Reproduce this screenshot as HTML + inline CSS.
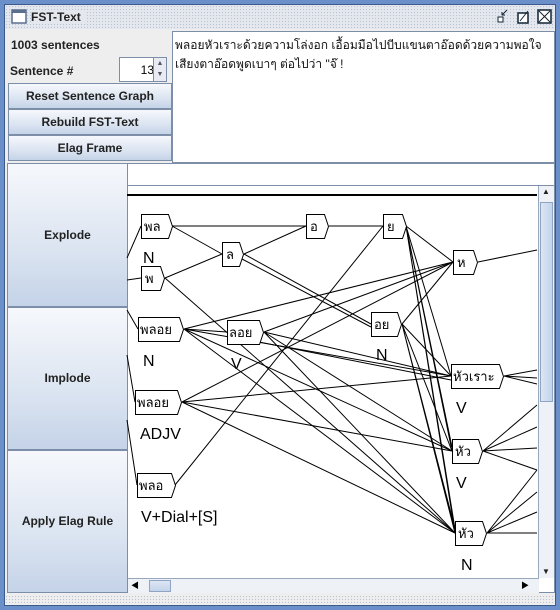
<!DOCTYPE html>
<html><head><meta charset="utf-8"><style>
*{margin:0;padding:0;box-sizing:border-box}
body{width:560px;height:610px;background:#6b8fc9;position:relative;overflow:hidden;font-family:"Liberation Sans","Noto Sans CJK SC",sans-serif}
.win{position:absolute;left:4px;top:4px;width:552px;height:602px;background:#eeeeee;border:1px solid #3a5a8c}
.title{position:absolute;left:0;top:0;width:550px;height:24px;background:#e4e8ee;background-image:radial-gradient(#b9c3d3 0.7px,transparent 0.8px);background-size:3px 3px}
.title span{position:absolute;left:26px;top:5px;font-size:12px;font-weight:bold;background:#e4e8ee;padding-right:4px;color:#222}
.btn{position:absolute;background:linear-gradient(#f6f8fc,#dbe4f1 60%,#c5d3e8);border:1px solid #7d8ea8;font-size:12px;font-weight:bold;color:#222;text-align:center}
.lb{position:absolute;font-size:12px;font-weight:bold;color:#222}
</style></head><body>
<div class="win">
<div class="title"><svg style="position:absolute;left:6px;top:4px" width="16" height="15"><rect x="1" y="1" width="14" height="13" fill="#fff" stroke="#5a6e8e" stroke-width="1.5"/><rect x="1" y="1" width="14" height="3" fill="#5a6e8e"/></svg><span>FST-Text</span>
<svg style="position:absolute;left:485px;top:4px" width="62" height="16"><rect x="8" y="8" width="5" height="5" fill="#fff" stroke="#123" /><path d="M12 6 L17 1 M12 6h3 M12 6v-3" stroke="#123"/><rect x="28" y="4" width="10" height="10" fill="#fff" stroke="#123" stroke-width="1.5"/><path d="M30 12 L38 2" stroke="#123"/><rect x="48" y="1" width="13" height="13" fill="#fff" stroke="#123" stroke-width="1.5"/><path d="M49 2 L60 13 M60 2 L49 13" stroke="#123"/></svg></div>
<div class="lb" style="left:6px;top:33px">1003 sentences</div>
<div class="lb" style="left:5px;top:59px">Sentence #</div>
<div style="position:absolute;left:114px;top:52px;width:38px;height:25px;background:#fff;border:1px solid #7d8ea8;font-size:12px;text-align:right;padding:5px 2px 0 0">13</div>
<div style="position:absolute;left:148px;top:52px;width:14px;height:25px;background:#e8ecf2;border:1px solid #7d8ea8;font-size:7px;color:#556;text-align:center;line-height:11px">▲<br>▼</div>
<div class="btn" style="left:3px;top:78px;width:164px;height:26px;line-height:24px">Reset Sentence Graph</div>
<div class="btn" style="left:3px;top:104px;width:164px;height:26px;line-height:24px">Rebuild FST-Text</div>
<div class="btn" style="left:3px;top:130px;width:164px;height:26px;line-height:24px">Elag Frame</div>
<div style="position:absolute;left:167px;top:26px;width:383px;height:132px;background:#fff;border:1px solid #7d8ea8;font-size:12px;padding:4px 2px;line-height:19px;font-family:'Liberation Sans','Noto Sans CJK SC',sans-serif;color:#111">พลอยหัวเราะด้วยความโล่งอก เอื้อมมือไปบีบแขนตาอ๊อดด้วยความพอใจ เสียงตาอ๊อดพูดเบาๆ ต่อไปว่า "จ๊ !</div>
<div class="btn" style="left:2px;top:158px;width:121px;height:144px;line-height:142px">Explode</div>
<div class="btn" style="left:2px;top:302px;width:121px;height:143px;line-height:141px">Implode</div>
<div class="btn" style="left:2px;top:445px;width:121px;height:143px;line-height:141px">Apply Elag Rule</div>
<div style="position:absolute;left:122px;top:158px;width:428px;height:430px;background:#fff;border:1px solid #7d8ea8"></div>
<div style="position:absolute;left:122px;top:180px;width:428px;height:1px;background:#7d8ea8"></div>
<div style="position:absolute;left:533px;top:181px;width:16px;height:392px;background:#eef1f6;border-left:1px solid #9aa8bd"><div style="position:absolute;left:1px;top:16px;width:13px;height:200px;background:linear-gradient(90deg,#dce6f4,#c3d3ea);border:1px solid #8fa3c2"></div><div style="position:absolute;top:1px;left:3px;font-size:8px;color:#222">▲</div><div style="position:absolute;bottom:2px;left:3px;font-size:8px;color:#222">▼</div></div>
<div style="position:absolute;left:123px;top:573px;width:411px;height:15px;background:#eef1f6;border-top:1px solid #9aa8bd"><div style="position:absolute;left:21px;top:1px;width:22px;height:12px;background:linear-gradient(#dce6f4,#c3d3ea);border:1px solid #8fa3c2"></div><div style="position:absolute;left:3px;top:1px;font-size:8px">◀</div><div style="position:absolute;right:10px;top:1px;font-size:8px">▶</div></div>
<div style="position:absolute;left:0;top:590px;width:550px;height:8px;background-image:radial-gradient(#b9c3d3 0.7px,transparent 0.8px);background-size:3px 3px"></div>
</div>
<svg style="position:absolute;left:0;top:0" width="560" height="610" font-family="Liberation Sans,Noto Sans CJK SC,sans-serif">
<line x1="127" y1="195" x2="537" y2="195" stroke="#000" stroke-width="2"/>
<g stroke="#000" stroke-width="1" fill="none">
<path d="M127 258L141 226M127 280L141 278M127 310L138 329M127 355L135 402M127 420L137 485"/>
<path d="M172 226L306 226M172 226L222 254M165 278L222 254M244 254L306 226M244 254L371 324M242 259L371 327M165 278L455 533M329 226L383 226"/>
<path d="M406 226L453 262M406 226L451 376M406 226L452 451M406 226L452 447M406 226L455 533M406 226L455 529M175 485L383 226"/>
<path d="M182 402L453 262M182 402L451 376M182 402L452 451M182 402L455 533"/>
<path d="M184 329L453 262M184 329L227 332M184 329L451 376M184 329L452 451M184 329L455 533"/>
<path d="M264 332L453 262M264 332L451 376M259 342L451 380M264 332L452 451M264 332L455 533"/>
<path d="M402 324L453 262M402 324L451 376M402 324L452 451M402 324L455 533M402 324L455 529"/>
<path d="M478 262L537 250M504 376L537 370M504 376L537 378M504 376L537 384M483 451L537 405M483 451L537 427M483 451L537 448M483 451L537 470M487 533L537 470M487 533L537 492M487 533L537 512M487 533L537 533"/>
</g>
<g fill="#fff" stroke="#000" stroke-width="1">
<path d="M141.5 214.5h27l4 12l-4 12h-27z"/>
<path d="M222.5 242.5h17l4 12l-4 12h-17z"/>
<path d="M141.5 266.5h19l4 12l-4 12h-19z"/>
<path d="M306.5 214.5h18l4 12l-4 12h-18z"/>
<path d="M383.5 214.5h19l4 12l-4 12h-19z"/>
<path d="M453.5 250.5h20l4 12l-4 12h-20z"/>
<path d="M138.5 317.5h41l4 12l-4 12h-41z"/>
<path d="M227.5 320.5h32l4 12l-4 12h-32z"/>
<path d="M371.5 312.5h26l4 12l-4 12h-26z"/>
<path d="M451.5 364.5h48l4 12l-4 12h-48z"/>
<path d="M135.5 390.5h42l4 12l-4 12h-42z"/>
<path d="M452.5 439.5h26l4 12l-4 12h-26z"/>
<path d="M137.5 473.5h34l4 12l-4 12h-34z"/>
<path d="M455.5 521.5h27l4 12l-4 12h-27z"/>
</g>
<g font-size="13" fill="#000">
<text x="144" y="231">พล</text><text x="226" y="259">ล</text><text x="145" y="283">พ</text>
<text x="310" y="231">อ</text><text x="387" y="231">ย</text><text x="457" y="267">ห</text>
<text x="140" y="334">พลอย</text><text x="229" y="337">ลอย</text><text x="374" y="329">อย</text>
<text x="453" y="381">หัวเราะ</text><text x="137" y="407">พลอย</text><text x="455" y="456">หัว</text>
<text x="139" y="490">พลอ</text><text x="458" y="538">หัว</text>
</g>
<g font-size="16" fill="#000">
<text x="143" y="263">N</text><text x="143" y="366">N</text><text x="231" y="369">V</text><text x="376" y="360">N</text>
<text x="140" y="439">ADJV</text><text x="141" y="522">V+Dial+[S]</text><text x="456" y="413">V</text>
<text x="456" y="488">V</text><text x="461" y="570">N</text>
</g>
</svg>
</body></html>
